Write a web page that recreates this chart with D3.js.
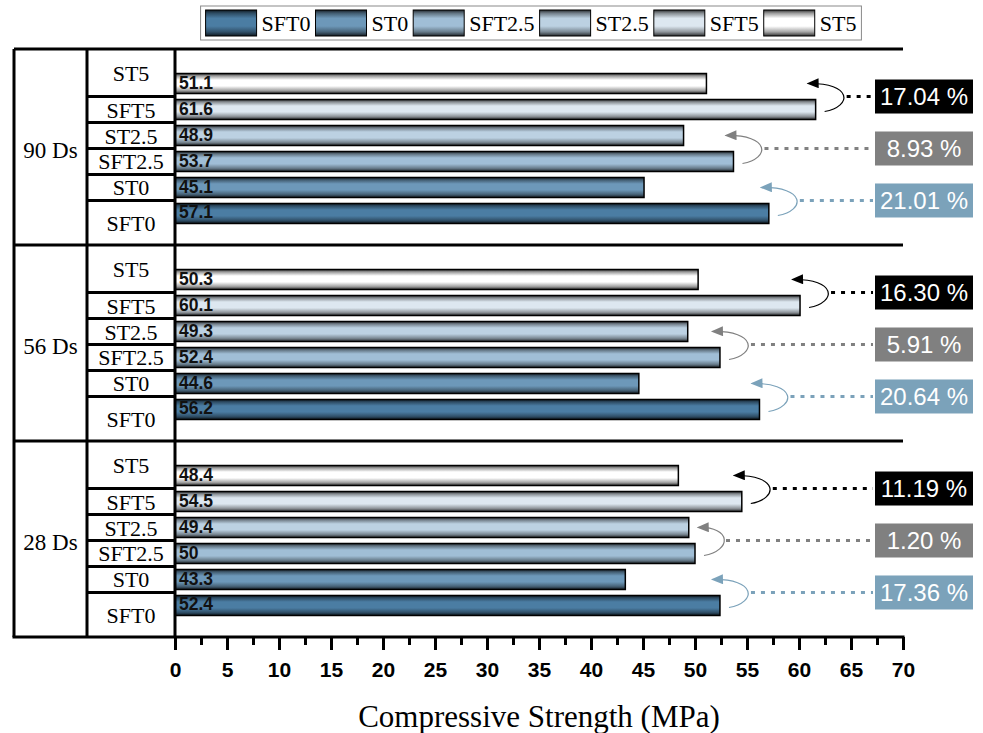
<!DOCTYPE html>
<html>
<head>
<meta charset="utf-8">
<script src="https://cdn.jsdelivr.net/npm/d3@7"></script>
<style>
  body { margin: 0; background: #fff; }
  svg { display: block; }
</style>
</head>
<body>
<div id="canvas"></div>
<script>
// data
const ages = ["90 Ds", "56 Ds", "28 Ds"];
const mixes = ["SFT0", "ST0", "SFT2.5", "ST2.5", "SFT5", "ST5"];
const rowOrder = ["ST5", "SFT5", "ST2.5", "SFT2.5", "ST0", "SFT0"];
const values90 = [57.1, 45.1, 53.7, 48.9, 61.6, 51.1];
const values56 = [56.2, 44.6, 52.4, 49.3, 60.1, 50.3];
const values28 = [52.4, 43.3, 50, 49.4, 54.5, 48.4];
const pairs = [["SFT0", "ST0"], ["SFT2.5", "ST2.5"], ["SFT5", "ST5"]];
const drop90 = ["21.01 %", "8.93 %", "17.04 %"];
const drop56 = ["20.64 %", "5.91 %", "16.30 %"];
const drop28 = ["17.36 %", "1.20 %", "11.19 %"];
const barColors = ["#4b7da3", "#6d98b9", "#a0bed6", "#bcd1e2", "#dde7f0", "#ffffff"];
const pairColors = ["#7ba2ba", "#808080", "#000000"];
const ticks = [0, 5, 10, 15, 20, 25, 30, 35, 40, 45, 50, 55, 60, 65, 70];

const valuesByAge = { "90 Ds": values90, "56 Ds": values56, "28 Ds": values28 };
const dropsByAge = { "90 Ds": drop90, "56 Ds": drop56, "28 Ds": drop28 };

const width = 983;
const height = 733;
const serif = "'Liberation Serif', 'Times New Roman', serif";
const sans = "'Liberation Sans', Arial, sans-serif";

const svg = d3.select("#canvas").append("svg")
  .attr("width", width)
  .attr("height", height);

const defs = svg.append("defs");

// shaded look of the bars: dark edges, colour in the middle
const shade = (c, k) => d3.interpolateRgb(c, "#000")(k);
mixes.forEach((m, i) => {
  const c = barColors[i];
  const g = defs.append("linearGradient")
    .attr("id", "grad" + i)
    .attr("x1", 0).attr("y1", 0).attr("x2", 0).attr("y2", 1);
  [[0, shade(c, 0.8)], [0.12, shade(c, 0.4)], [0.32, c], [0.62, c],
   [0.84, shade(c, 0.35)], [1, shade(c, 0.8)]].forEach(([o, col]) => {
    g.append("stop").attr("offset", o).attr("stop-color", col);
  });
});

pairColors.forEach((c, i) => {
  defs.append("marker")
    .attr("id", "arrow" + i)
    .attr("viewBox", "0 0 12 10")
    .attr("refX", 11).attr("refY", 5)
    .attr("markerWidth", 13).attr("markerHeight", 10)
    .attr("markerUnits", "userSpaceOnUse")
    .attr("orient", "auto")
    .append("path")
    .attr("d", "M0,0 L12,5 L0,10 Z")
    .attr("fill", c);
});

const colLeft = 14;
const col2 = 87;
const plotTop = 49;
const plotBottom = 637;

const x = d3.scaleLinear().domain([0, 70]).range([175, 903]);
const yAge = d3.scaleBand().domain(ages).range([plotTop, plotBottom]);
const yRow = d3.scaleBand().domain(rowOrder)
  .range([0, yAge.bandwidth()])
  .paddingInner(0.23)
  .paddingOuter(0.885);
const bw = yRow.bandwidth();
const rowColor = m => "url(#grad" + mixes.indexOf(m) + ")";

// boundary between two neighbouring rows
const rowGap = i => (yRow(rowOrder[i]) + bw + yRow(rowOrder[i + 1])) / 2;

ages.forEach(age => {
  const g0 = yAge(age);
  const g = svg.append("g").attr("transform", `translate(0,${g0 + 1.5})`);
  const vals = valuesByAge[age];
  const rows = rowOrder.map(m => ({ mix: m, value: vals[mixes.indexOf(m)] }));

  g.selectAll("rect.bar").data(rows).enter().append("rect")
    .attr("class", "bar")
    .attr("x", x(0))
    .attr("y", d => yRow(d.mix))
    .attr("width", d => x(d.value) - x(0))
    .attr("height", bw)
    .attr("fill", d => rowColor(d.mix))
    .attr("stroke", "#000")
    .attr("stroke-width", 1.5);

  g.selectAll("text.val").data(rows).enter().append("text")
    .attr("class", "val")
    .attr("x", x(0) + 4)
    .attr("y", d => yRow(d.mix) + bw - 5)
    .style("font-family", sans)
    .style("font-weight", "bold")
    .style("font-size", "17.5px")
    .style("fill", "#111")
    .text(d => String(d.value));

  // row cells in the second column
  const edges = [-1.5];
  for (let i = 0; i < rowOrder.length - 1; i++) edges.push(rowGap(i));
  edges.push(yAge.bandwidth() - 1.5);

  edges.slice(1, -1).forEach(e => {
    g.append("line")
      .attr("x1", col2).attr("x2", x(0))
      .attr("y1", e).attr("y2", e)
      .attr("stroke", "#000").attr("stroke-width", 3);
  });

  rowOrder.forEach((m, i) => {
    g.append("text")
      .attr("x", (col2 + x(0)) / 2)
      .attr("y", (edges[i] + edges[i + 1]) / 2 + 8)
      .attr("text-anchor", "middle")
      .style("font-family", serif)
      .style("font-size", "22px")
      .text(m);
  });

  g.append("text")
    .attr("x", (colLeft + col2) / 2)
    .attr("y", yAge.bandwidth() / 2 + 9)
    .attr("text-anchor", "middle")
    .style("font-family", serif)
    .style("font-size", "23px")
    .text(age);

  // reduction callouts
  const drops = dropsByAge[age];
  pairs.forEach(([a, b], k) => {
    const ia = rowOrder.indexOf(a);
    const ib = rowOrder.indexOf(b);
    const cy = rowGap(Math.min(ia, ib));
    const va = vals[mixes.indexOf(a)];
    const vb = vals[mixes.indexOf(b)];
    const e = x(Math.max(va, vb));
    const tip = Math.max(e - 8, x(Math.min(va, vb)) + 9);
    const c = pairColors[k];

    g.append("path")
      .attr("d", `M${e + 9},${cy + 15} C${e + 37},${cy + 10} ${e + 37},${cy - 14} ${tip},${cy - 13}`)
      .attr("fill", "none")
      .attr("stroke", c)
      .attr("stroke-width", 1.2)
      .attr("marker-end", `url(#arrow${k})`);

    g.append("line")
      .attr("x1", e + 31).attr("x2", 873)
      .attr("y1", cy).attr("y2", cy)
      .attr("stroke", c)
      .attr("stroke-width", 3)
      .attr("stroke-dasharray", "4,6");

    g.append("rect")
      .attr("x", 875).attr("y", cy - 17)
      .attr("width", 98).attr("height", 34)
      .attr("fill", c);

    g.append("text")
      .attr("x", 924).attr("y", cy + 8.5)
      .attr("text-anchor", "middle")
      .style("font-family", sans)
      .style("font-size", "24px")
      .style("fill", "#fff")
      .text(drops[k]);
  });
});

// table frame
const frame = svg.append("g").attr("stroke", "#000").attr("stroke-width", 3);
[colLeft, col2, x(0)].forEach(v => {
  frame.append("line").attr("x1", v).attr("x2", v).attr("y1", plotTop).attr("y2", plotBottom);
});
ages.forEach(age => {
  const yy = yAge(age);
  frame.append("line").attr("x1", colLeft).attr("x2", x(70)).attr("y1", yy).attr("y2", yy);
});
frame.append("line").attr("x1", colLeft - 1.5).attr("x2", x(70) + 1.5)
  .attr("y1", plotBottom).attr("y2", plotBottom);

// x axis
const major = svg.append("g")
  .attr("transform", `translate(0,${plotBottom})`)
  .call(d3.axisBottom(x).tickValues(ticks).tickSize(13).tickPadding(12));
major.select(".domain").remove();
major.selectAll("line").attr("stroke-width", 3);
major.selectAll("text")
  .style("font-family", sans)
  .style("font-weight", "bold")
  .style("font-size", "21px")
  .style("fill", "#000");

const minor = svg.append("g")
  .attr("transform", `translate(0,${plotBottom})`)
  .call(d3.axisBottom(x).tickValues(ticks.slice(0, -1).map(t => t + 2.5)).tickSize(8).tickFormat(""));
minor.select(".domain").remove();
minor.selectAll("line").attr("stroke-width", 3);

svg.append("text")
  .attr("x", (x(0) + x(70)) / 2)
  .attr("y", 727)
  .attr("text-anchor", "middle")
  .style("font-family", serif)
  .style("font-size", "31px")
  .text("Compressive Strength (MPa)");

// legend
const legend = svg.append("g");
const box = legend.append("rect")
  .attr("y", 6).attr("height", 34)
  .attr("fill", "#fff")
  .attr("stroke", "#8a8a8a")
  .attr("stroke-width", 1);
let lx = 0;
mixes.forEach((m, i) => {
  legend.append("rect")
    .attr("x", lx).attr("y", 10)
    .attr("width", 51).attr("height", 26)
    .attr("fill", "url(#grad" + i + ")")
    .attr("stroke", "#000")
    .attr("stroke-width", 1);
  const t = legend.append("text")
    .attr("x", lx + 56).attr("y", 31)
    .style("font-family", serif)
    .style("font-size", "22px")
    .text(m);
  lx += 56 + t.node().getComputedTextLength() + 5;
});
const lw = lx - 5;
const lx0 = 531 - lw / 2;
box.attr("x", -5).attr("width", lw + 10);
legend.attr("transform", `translate(${lx0},0)`);
</script>
</body>
</html>
